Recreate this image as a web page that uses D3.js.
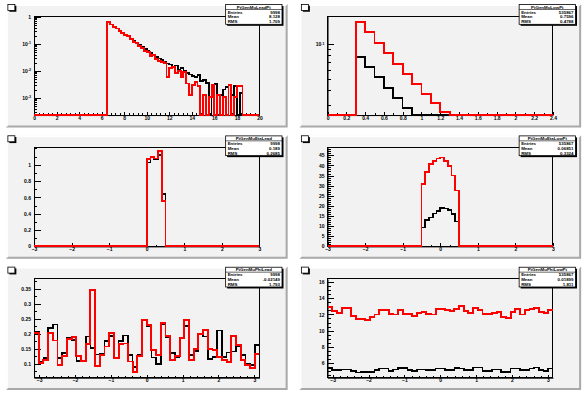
<html lang="en">
<head>
<meta charset="utf-8">
<title>Gen muon histograms</title>
<style>
    body { margin: 0; background-color: white; }
    svg { display: block; }
    .tick line { shape-rendering: crispEdges; }
    .frame { fill: none; stroke: black; stroke-width: 1; shape-rendering: crispEdges; }
    .hist { fill: none; stroke-linejoin: miter; shape-rendering: crispEdges; }
    .stat { font-family: "Liberation Sans", Arial, sans-serif; font-weight: bold; font-size: 4.4px; }
</style>
</head>
<body>
<script src="https://cdnjs.cloudflare.com/ajax/libs/d3/7.8.5/d3.min.js"></script>
<script>
var W = 587, H = 394;

// ---- pad 1 : leading muon pt (log y), bins of 0.25 from 6.5
var pad1Black = [0.615, 0.519, 0.438, 0.369, 0.311, 0.262, 0.221, 0.192, 0.153, 0.129, 0.109, 0.089,
                 0.075, 0.065, 0.0565, 0.0463, 0.040, 0.0329, 0.0285, 0.0248, 0.0209, 0.0186, 0.0171, 0.014,
                 0.016, 0.0112, 0.0129, 0.0102, 0.0084, 0.0073, 0.0063, 0.0058, 0.0069, 0.0042, 0.0045, 0.0035,
                 0, 0.0028, 0.0032, 0, 0.0013, 0.0020, 0.0025, 0.0030, 0.0013, 0.0028, 0, 0.0015];
var pad1Red = [0.64, 0.52, 0.43, 0.37, 0.30, 0.26, 0.22, 0.19, 0.15, 0.12, 0.105, 0.085,
               0.07, 0.055, 0.048, 0.036, 0.038, 0.027, 0.024, 0.022, 0.019, 0.0058, 0.0129, 0.0136,
               0.0084, 0.0102, 0.0058, 0.009, 0.0034, 0.0013, 0.003, 0.004, 0.0027, 0, 0.0013, 0,
               0.0011, 0.003, 0, 0.0013, 0, 0.0011, 0, 0.003, 0, 0.0011, 0.0027, 0.0027];
var pad1XTicks = [0, 2, 4, 6, 8, 10, 12, 14, 16, 18, 20];
var pad1YTicks = [1, 0.1, 0.01, 0.001];
var pad1YLabels = ["1", "10^-1", "10^-2", "10^-3"];

// ---- pad 2 : (log y), bins of 0.1 from 0.3
var pad2Black = [0.0773, 0.0634, 0.052, 0.0418, 0.0342, 0.0281];
var pad2Red = [0.155, 0.127, 0.102, 0.0836, 0.0676, 0.0551, 0.0452, 0.037, 0.031, 0.0259];
var pad2XTicks = [0, 0.2, 0.4, 0.6, 0.8, 1, 1.2, 1.4, 1.6, 1.8, 2, 2.2, 2.4];
var pad2YTicks = [0.1];
var pad2YLabels = ["10^-1"];

// ---- pad 3 : bins of 0.1 from 0
var pad3Black = [1.028, 1.089, 1.069, 1.121, 0.645];
var pad3Red = [1.069, 1.097, 1.077, 1.169, 0.552];
var pad3XTicks = [-3, -2, -1, 0, 1, 2, 3];
var pad3YTicks = [0, 0.2, 0.4, 0.6, 0.8, 1];

// ---- pad 4 : bins of 0.1 from -0.5
var pad4Black = [9.4, 13.0, 14.3, 16.3, 17.6, 19.0, 18.7, 17.9, 15.9, 12.2];
var pad4Red = [30.9, 36.9, 40.7, 42.3, 43.4, 43.9, 42.3, 39.8, 35.0, 27.6];
var pad4XTicks = [-3, -2, -1, 0, 1, 2, 3];
var pad4YTicks = [0, 5, 10, 15, 20, 25, 30, 35, 40, 45];

// ---- pad 5 : 48 bins over [-pi, pi]
var pad5Black = [0.205, 0.106, 0.119, 0.218, 0.230, 0.119, 0.136, 0.185, 0.179, 0.108, 0.111, 0.190,
                 0.152, 0.130, 0.133, 0.175, 0.191, 0.120, 0.175, 0.193, 0.128, 0.089, 0.128, 0.245,
                 0.224, 0.120, 0.098, 0.232, 0.188, 0.135, 0.122, 0.185, 0.226, 0.128, 0.142, 0.197,
                 0.190, 0.115, 0.122, 0.210, 0.122, 0.137, 0.140, 0.158, 0.128, 0.098, 0.095, 0.162];
var pad5Red = [0.202, 0.102, 0.111, 0.201, 0.177, 0.095, 0.126, 0.181, 0.190, 0.126, 0.109, 0.164,
               0.345, 0.091, 0.128, 0.157, 0.203, 0.118, 0.164, 0.167, 0.107, 0.072, 0.126, 0.246,
               0.230, 0.146, 0.128, 0.234, 0.193, 0.111, 0.124, 0.185, 0.246, 0.111, 0.149, 0.199,
               0.213, 0.149, 0.146, 0.122, 0.111, 0.105, 0.193, 0.161, 0.111, 0.095, 0.086, 0.131];
var pad5XTicks = [-3, -2, -1, 0, 1, 2, 3];
var pad5YTicks = [0.1, 0.15, 0.2, 0.25, 0.3, 0.35];

// ---- pad 6 : 48 bins over [-pi, pi]
var pad6Black = [5.35, 5.1, 5.1, 5.2, 5.2, 5.0, 4.8, 4.9, 4.9, 4.9, 5.1, 5.3,
                 5.3, 5.0, 5.2, 5.35, 5.35, 5.1, 5.0, 5.2, 5.2, 5.1, 5.1, 5.3,
                 5.3, 5.1, 5.1, 5.4, 5.3, 5.1, 5.1, 5.45, 5.45, 5.0, 5.0, 5.2,
                 5.2, 4.9, 4.9, 5.3, 5.3, 5.1, 5.1, 5.3, 5.45, 5.1, 5.0, 5.3];
var pad6Red = [12.9, 12.4, 12.2, 12.8, 12.8, 11.8, 11.4, 11.4, 11.3, 11.7, 12.0, 12.6,
               12.5, 12.1, 12.0, 12.6, 12.1, 12.1, 11.8, 12.2, 12.3, 12.1, 12.0, 12.7,
               12.7, 12.5, 12.4, 12.7, 13.0, 12.4, 12.2, 12.8, 12.5, 12.1, 12.1, 12.2,
               12.3, 11.7, 11.6, 12.3, 12.7, 12.0, 12.5, 12.7, 12.8, 12.3, 12.2, 12.6];
var pad6XTicks = [-3, -2, -1, 0, 1, 2, 3];
var pad6YTicks = [6, 8, 10, 12, 14, 16];

// ---- stats boxes
var statNames = ["PtGenMuLeadPt", "PtGenMuLowPt", "PtGenMuEtaLead", "PtGenMuEtaLowPt", "PtGenMuPhiLead", "PtGenMuPhiLowPt"];
var statEntries = ["9998", "535867", "9998", "535867", "9998", "535867"];
var statMeans = ["8.128", "0.7596", "0.189", "0.06851", "-0.02149", "0.01899"];
var statRms = ["1.709", "0.4788", "0.2685", "0.3324", "1.793", "1.811"];

var PI = Math.PI;

var pads = [
    { col: 0, row: 0, log: true, xDomain: [0, 20], yDomain: [2.3e-4, 1.05], start: 6.5, width: 0.25,
      black: pad1Black, red: pad1Red, xTicks: pad1XTicks, xMinor: 0.4, yTicks: pad1YTicks, yLabels: pad1YLabels },
    { col: 1, row: 0, log: true, xDomain: [0, 2.4], yDomain: [0.0245, 0.174], start: 0.3, width: 0.1,
      black: pad2Black, red: pad2Red, xTicks: pad2XTicks, xMinor: 0.1, yTicks: pad2YTicks, yLabels: pad2YLabels },
    { col: 0, row: 1, log: false, xDomain: [-3, 3], yDomain: [0, 1.21], start: 0, width: 0.1,
      black: pad3Black, red: pad3Red, xTicks: pad3XTicks, xMinor: 0.25, yTicks: pad3YTicks, yMinor: 0.1 },
    { col: 1, row: 1, log: false, xDomain: [-3, 3], yDomain: [0, 48.8], start: -0.5, width: 0.1,
      black: pad4Black, red: pad4Red, xTicks: pad4XTicks, xMinor: 0.25, yTicks: pad4YTicks, yMinor: 1 },
    { col: 0, row: 2, log: false, xDomain: [-PI, PI], yDomain: [0.053, 0.382], start: -PI, width: 2 * PI / 48,
      black: pad5Black, red: pad5Red, xTicks: pad5XTicks, xMinor: 0.2, yTicks: pad5YTicks, yMinor: 0.025 },
    { col: 1, row: 2, log: false, xDomain: [-PI, PI], yDomain: [4.16, 16.4], start: -PI, width: 2 * PI / 48,
      black: pad6Black, red: pad6Red, xTicks: pad6XTicks, xMinor: 0.2, yTicks: pad6YTicks, yMinor: 0.5 }
];

var svg = d3.select("body").append("svg")
    .attr("width", W)
    .attr("height", H);

svg.append("rect").attr("width", W).attr("height", H).attr("fill", "white");

function linearMinor(domain, step) {
    var out = [];
    var k0 = Math.ceil(domain[0] / step - 1e-6), k1 = Math.floor(domain[1] / step + 1e-6);
    for (var k = k0; k <= k1; k++) out.push(+(k * step).toFixed(6));
    return out;
}

function logMinor(domain) {
    var out = [];
    for (var e = Math.floor(Math.log10(domain[0])); e <= Math.ceil(Math.log10(domain[1])); e++) {
        for (var m = 1; m <= 9; m++) {
            var v = m * Math.pow(10, e);
            if (v >= domain[0] && v <= domain[1]) out.push(v);
        }
    }
    return out;
}

// step outline of a histogram, flat at the frame bottom outside the filled bins
function stepPath(x, y, p, vals) {
    var yb = y.range()[0];
    var yv = function(v) { return v <= p.yDomain[0] ? yb : y(v); };
    var d;
    if (p.start > p.xDomain[0] + 1e-9) {
        d = "M" + x(p.xDomain[0]) + "," + yb + "H" + x(p.start) + "V" + yv(vals[0]);
    } else {
        d = "M" + x(p.start) + "," + yv(vals[0]);
    }
    vals.forEach(function(v, i) {
        if (i > 0) d += "V" + yv(v);
        d += "H" + x(p.start + (i + 1) * p.width);
    });
    var end = p.start + vals.length * p.width;
    if (end < p.xDomain[1] - 1e-9) d += "V" + yb + "H" + x(p.xDomain[1]);
    return d;
}

function styleAxis(g) {
    g.attr("font-size", 5)
     .attr("font-family", "'Liberation Sans', Arial, sans-serif")
     .attr("font-weight", "bold");
}

function drawPad(p, idx) {
    var px = (p.col * 0.5 + 0.01) * W, pw = 0.48 * W;
    var py = (p.row / 3 + 0.01) * H, ph = (1 / 3 - 0.02) * H;
    var g = svg.append("g").attr("transform", "translate(" + px + "," + py + ")");

    // pad with bevel
    g.append("rect").attr("width", pw).attr("height", ph).attr("fill", "#f2f2f2");
    g.append("path")
        .attr("d", "M" + pw + ",0V" + ph + "H0L2," + (ph - 2) + "H" + (pw - 2) + "V2Z")
        .attr("fill", "#a9a9a9");
    g.append("path")
        .attr("d", "M0,0H" + pw + "L" + (pw - 2) + ",2H2V" + (ph - 2) + "L0," + ph + "Z")
        .attr("fill", "#ffffff");

    var fx0 = 0.1 * pw, fx1 = 0.9 * pw, fy0 = 0.1 * ph, fy1 = 0.9 * ph;
    var x = d3.scaleLinear().domain(p.xDomain).range([fx0, fx1]);
    var y = (p.log ? d3.scaleLog() : d3.scaleLinear()).domain(p.yDomain).range([fy1, fy0]);

    // x axis
    var xMinorTicks = linearMinor(p.xDomain, p.xMinor);
    var gxm = g.append("g").attr("transform", "translate(0," + fy1 + ")")
        .call(d3.axisBottom(x).tickValues(xMinorTicks).tickSizeInner(-1.6).tickSizeOuter(0).tickFormat(""));
    gxm.select(".domain").remove();
    var gx = g.append("g").attr("transform", "translate(0," + fy1 + ")")
        .call(d3.axisBottom(x).tickValues(p.xTicks).tickSizeInner(-3).tickSizeOuter(0).tickPadding(1.2)
            .tickFormat(function(d) { return d3.format("~g")(d); }));
    styleAxis(gx);

    // y axis
    var yMinorTicks = p.log ? logMinor(p.yDomain) : linearMinor(p.yDomain, p.yMinor);
    var gym = g.append("g").attr("transform", "translate(" + fx0 + ",0)")
        .call(d3.axisLeft(y).tickValues(yMinorTicks).tickSizeInner(-3.4).tickSizeOuter(0).tickFormat(""));
    gym.select(".domain").remove();
    var gy = g.append("g").attr("transform", "translate(" + fx0 + ",0)")
        .call(d3.axisLeft(y).tickValues(p.yTicks).tickSizeInner(-6.8).tickSizeOuter(0).tickPadding(3)
            .tickFormat(function(d, i) { return p.yLabels ? "" : d3.format("~g")(d); }));
    styleAxis(gy);
    if (p.yLabels) {
        gy.selectAll(".tick text").each(function(d, i) {
            var t = d3.select(this), parts = p.yLabels[i].split("^");
            t.append("tspan").text(parts[0]);
            if (parts[1]) {
                t.append("tspan").attr("dy", "-0.45em").attr("font-size", 3.6).text(parts[1]);
            }
        });
    }

    g.append("rect").attr("class", "frame")
        .attr("x", fx0).attr("y", fy0).attr("width", fx1 - fx0).attr("height", fy1 - fy0);

    // histograms
    var clipId = "clip" + idx;
    g.append("clipPath").attr("id", clipId).append("rect")
        .attr("x", fx0 - 1).attr("y", fy0).attr("width", fx1 - fx0 + 2).attr("height", fy1 - fy0 + 1.5);
    var hg = g.append("g").attr("clip-path", "url(#" + clipId + ")");
    hg.append("path").attr("class", "hist").attr("d", stepPath(x, y, p, p.black))
        .attr("stroke", "black").attr("stroke-width", 1.6);
    hg.append("path").attr("class", "hist").attr("d", stepPath(x, y, p, p.red))
        .attr("stroke", "#ff0000").attr("stroke-width", 1.9);

    // empty title box
    g.append("rect").attr("x", 3.5).attr("y", 1.8).attr("width", 7).attr("height", 6).attr("fill", "black");
    g.append("rect").attr("x", 2).attr("y", 0.5).attr("width", 7).attr("height", 6)
        .attr("fill", "white").attr("stroke", "black").attr("stroke-width", 0.8);

    // stats box
    var sx = 0.78 * pw, sw = 0.2 * pw, sy = 0.005 * ph, sh = 0.16 * ph;
    g.append("rect").attr("x", sx + 1.5).attr("y", sy + 1.5).attr("width", sw).attr("height", sh).attr("fill", "black");
    g.append("rect").attr("x", sx).attr("y", sy).attr("width", sw).attr("height", sh)
        .attr("fill", "white").attr("stroke", "black").attr("stroke-width", 0.8);
    var rowH = sh / 4;
    g.append("line").attr("x1", sx).attr("x2", sx + sw)
        .attr("y1", sy + rowH).attr("y2", sy + rowH).attr("stroke", "black").attr("stroke-width", 0.6);
    g.append("text").attr("class", "stat").attr("x", sx + sw / 2).attr("y", sy + rowH * 0.5)
        .attr("dy", "0.35em").attr("text-anchor", "middle").text(statNames[idx]);
    var rows = [["Entries", statEntries[idx]], ["Mean", statMeans[idx]], ["RMS", statRms[idx]]];
    rows.forEach(function(r, i) {
        var ty = sy + rowH * (i + 1.5);
        g.append("text").attr("class", "stat").attr("x", sx + 2).attr("y", ty).attr("dy", "0.35em").text(r[0]);
        g.append("text").attr("class", "stat").attr("x", sx + sw - 2).attr("y", ty).attr("dy", "0.35em")
            .attr("text-anchor", "end").text(r[1]);
    });
}

pads.forEach(drawPad);
</script>
</body>
</html>
